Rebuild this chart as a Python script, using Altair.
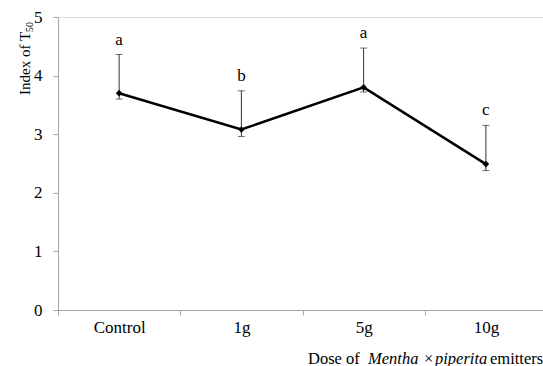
import altair as alt
import pandas as pd

categories = ["Control", "1g", "5g", "10g"]
means = [3.70, 3.08, 3.80, 2.49]
upper = [4.36, 3.74, 4.47, 3.15]
lower = [3.60, 2.96, 3.72, 2.38]
letters = ["a", "b", "a", "c"]
y_ticks = [0, 1, 2, 3, 4, 5]

FONT = "Liberation Serif"
AX = "#a6a6a6"

df = pd.DataFrame({"dose": categories, "mean": means, "upper": upper,
                   "lower": lower, "letter": letters})

x_enc = alt.X("dose:N", sort=categories, title=None,
              scale=alt.Scale(range=[0, 489]),
              axis=alt.Axis(labelAngle=0, tickBand="extent", tickSize=5,
                            labelPadding=4, labelFont=FONT, labelFontSize=17,
                            labelColor="black", domainColor=AX, tickColor=AX,
                            grid=False))
y_scale = alt.Scale(domain=[0, 5], nice=False)

base = alt.Chart(df)

rules = base.mark_rule(color="#333333", strokeWidth=1).encode(
    x=x_enc,
    y=alt.Y("lower:Q", scale=y_scale, title=None,
            axis=alt.Axis(values=y_ticks, format="d", tickSize=5,
                          labelPadding=11, labelFont=FONT, labelFontSize=17,
                          labelColor="black", domainColor=AX, tickColor=AX,
                          grid=False)),
    y2="upper:Q",
)
cap_hi = base.mark_tick(color="#333333", thickness=1, size=7).encode(
    x=alt.X("dose:N", sort=categories), y=alt.Y("upper:Q", scale=y_scale))
cap_lo = base.mark_tick(color="#333333", thickness=1, size=7).encode(
    x=alt.X("dose:N", sort=categories), y=alt.Y("lower:Q", scale=y_scale))

line = base.mark_line(color="black", strokeWidth=2.5).encode(
    x=alt.X("dose:N", sort=categories), y=alt.Y("mean:Q", scale=y_scale))
pts = base.mark_point(shape="diamond", filled=True, color="black", size=45,
                      opacity=1).encode(
    x=alt.X("dose:N", sort=categories), y=alt.Y("mean:Q", scale=y_scale))

lett = base.mark_text(font=FONT, fontSize=17, color="black", dy=-10,
                      baseline="alphabetic").encode(
    x=alt.X("dose:N", sort=categories), y=alt.Y("upper:Q", scale=y_scale),
    text="letter:N")


def txt(s, x, y, size=16.5, style="normal", angle=0):
    return alt.Chart(pd.DataFrame({"t": [s]})).mark_text(
        font=FONT, fontSize=size, fontStyle=style, color="black",
        align="left", baseline="alphabetic", angle=angle).encode(
        x=alt.value(x), y=alt.value(y), text="t:N")


ytitle = txt("Index of T", -28, 78, size=15, angle=270)
ysub = txt("50", -25, 15, size=10, angle=270)

xt1 = txt("Dose of", 250, 347)
xt2 = txt("Mentha", 310, 347, style="italic")
xt3 = txt("×", 366, 347)
xt4 = txt("piperita", 377, 347, style="italic")
xt5 = txt("emitters", 432, 347)

chart = alt.layer(rules, cap_hi, cap_lo, line, pts, lett, ytitle, ysub,
                  xt1, xt2, xt3, xt4, xt5).properties(
    width=485, height=293,
    autosize=alt.AutoSizeParams(type="none"),
    padding={"left": 58, "top": 17, "right": 0, "bottom": 56},
).configure_view(stroke=None).configure(background="white")

chart.save("out.html", embed_options={"renderer": "svg", "actions": False})
